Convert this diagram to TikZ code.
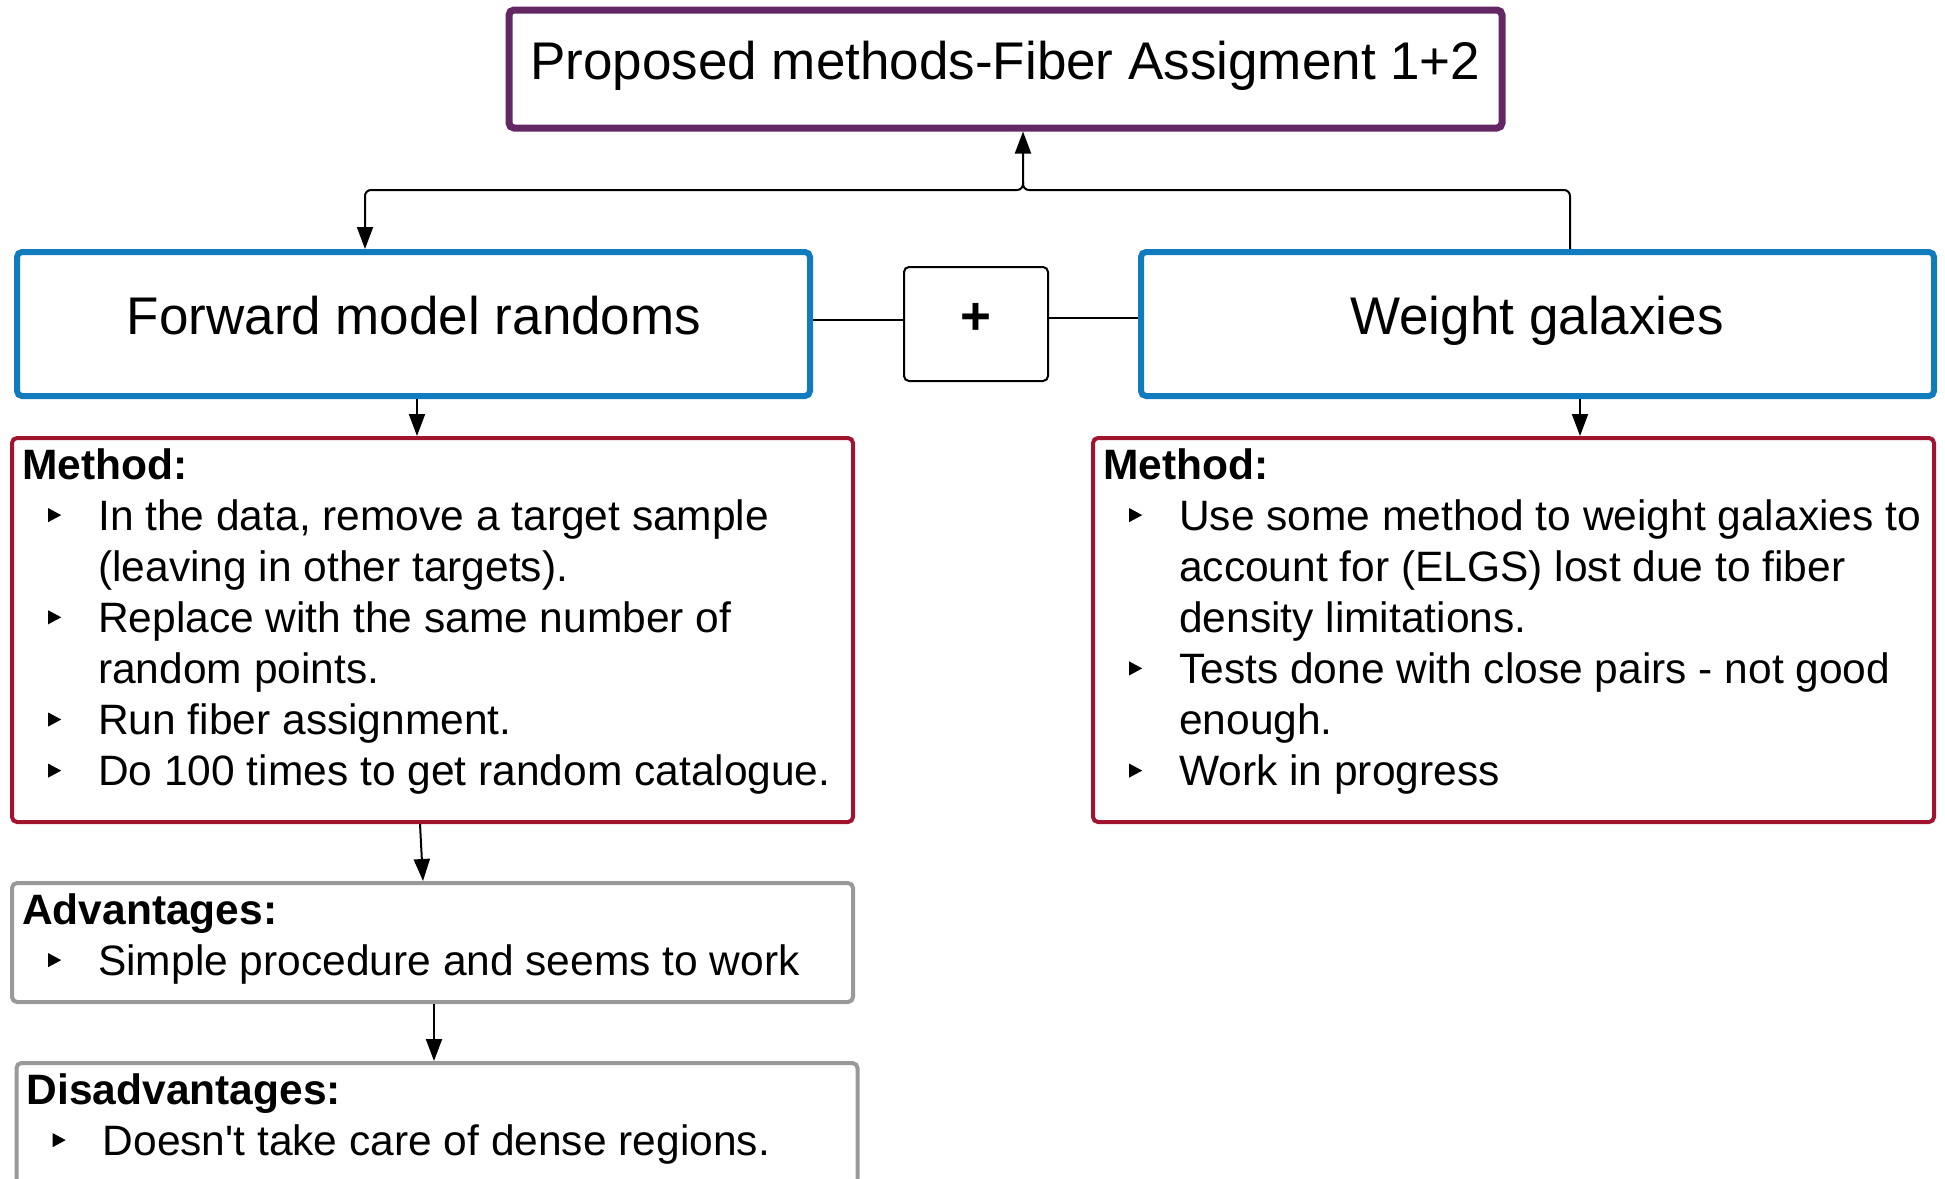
\documentclass[tikz,border=0pt]{standalone}
\usepackage{fontspec}
\setmainfont{Liberation Sans}
\usetikzlibrary{arrows.meta,calc}
\definecolor{cpurple}{RGB}{99,40,99}
\definecolor{cblue}{RGB}{16,124,190}
\definecolor{cred}{RGB}{160,20,48}
\definecolor{cgray}{RGB}{153,153,153}
\newcommand\tribul{\tikz[baseline=0pt]\fill[black] (0pt,8pt)--(0pt,22pt)--(13pt,15pt)--cycle;}
\newcommand\bitem[1]{\makebox[76pt][l]{\hspace*{26pt}\tribul}#1}
\newcommand\bcont[1]{\hspace*{76pt}#1}
\newcommand\bigfont{\fontsize{53}{64}\selectfont}
\newcommand\bodyfont{\fontsize{42.5}{51.1}\selectfont}
\begin{document}
\begin{tikzpicture}[x=1pt,y=-1pt,
  basebox/.style={draw, rounded corners=5pt, inner sep=0pt},
  titlebox/.style={basebox, draw=cpurple, line width=7pt, minimum width=993pt, minimum height=118pt},
  mainbox/.style={basebox, draw=cblue, line width=6pt, minimum width=793pt, minimum height=144pt},
  plusbox/.style={basebox, draw=black, line width=2pt, minimum width=144pt, minimum height=114pt},
  methbox/.style={basebox, draw=cred, line width=4pt, minimum width=841pt, minimum height=384pt},
  greybox/.style={basebox, draw=cgray, line width=4pt, minimum width=841pt},
  bigtext/.style={font=\bigfont, inner sep=0pt, anchor=base},
  bodytext/.style={font=\bodyfont, inner sep=0pt, anchor=north west, align=left},
  conn/.style={draw=black, line width=2pt},
  arr/.style={conn, -{Triangle[length=22pt,width=16pt]}}
]
\useasboundingbox (0,0) rectangle (1945,1178);
\fill[white] (0,0) rectangle (1945,1178);

% boxes
\node[titlebox] (title) at (1005.5,69) {};
\node[bigtext] (titletxt) at (1005.5,79.5) {Proposed methods-Fiber Assigment 1+2};

\node[mainbox] (fwd) at (413.5,324) {};
\node[bigtext] (fwdtxt) at (414,334.5) {Forward model randoms};

\node[mainbox] (wg) at (1537.5,324) {};
\node[bigtext] (wgtxt) at (1537,334.5) {Weight galaxies};

\node[plusbox] (plus) at (976,324) {};
\node[font=\bigfont\bfseries, inner sep=0pt, anchor=base] (plustxt) at (975.5,334) {+};

\node[methbox] (lm) at (432.5,630) {};
\node[methbox] (rm) at (1513.5,630) {};
\node[greybox, minimum height=119pt] (adv) at (432.5,942.5) {};
\node[greybox, minimum height=137pt] (dis) at (437,1131.5) {};

% texts
\node[bodytext] (lmtxt) at ($(lm.north west)+(12,12)$) {\textbf{Method:}\\
\bitem{In the data, remove a target sample}\\
\bcont{(leaving in other targets).}\\
\bitem{Replace with the same number of}\\
\bcont{random points.}\\
\bitem{Run fiber assignment.}\\
\bitem{Do 100 times to get random catalogue.}};

\node[bodytext] (rmtxt) at ($(rm.north west)+(12,12)$) {\textbf{Method:}\\
\bitem{Use some method to weight galaxies to}\\
\bcont{account for (ELGS) lost due to fiber}\\
\bcont{density limitations.}\\
\bitem{Tests done with close pairs - not good}\\
\bcont{enough.}\\
\bitem{Work in progress}};

\node[bodytext] (advtxt) at ($(adv.north west)+(12,12)$) {\textbf{Advantages:}\\
\bitem{Simple procedure and seems to work}};

\node[bodytext] (distxt) at ($(dis.north west)+(12,12)$) {\textbf{Disadvantages:}\\
\bitem{Doesn\textquotesingle t take care of dense regions.}};

% connectors
\coordinate (junc) at (1023,190);
\draw[arr, rounded corners=6pt] ([xshift=32.5pt]wg.north) |- (junc) -- (junc |- title.south);
\draw[arr, rounded corners=6pt] ($(junc)+(0,-8)$) -- (junc) -| ([xshift=-48.5pt]fwd.north);
\draw[conn] ([yshift=4pt]fwd.east) -- ([yshift=4pt]fwd.east -| plus.west);
\draw[conn] ([yshift=6pt]plus.east) -- ([yshift=6pt]plus.east -| wg.west);
\draw[arr] ([xshift=3.5pt]fwd.south) -- ([xshift=3.5pt]fwd.south |- lm.north);
\draw[arr] ([xshift=42.5pt]wg.south) -- ([xshift=42.5pt]wg.south |- rm.north);
\draw[arr] ([xshift=-12.5pt]lm.south) -- ([xshift=-9.5pt]adv.north);
\draw[arr] ([xshift=1.5pt]adv.south) -- ([xshift=-3pt]dis.north);
\end{tikzpicture}
\end{document}
